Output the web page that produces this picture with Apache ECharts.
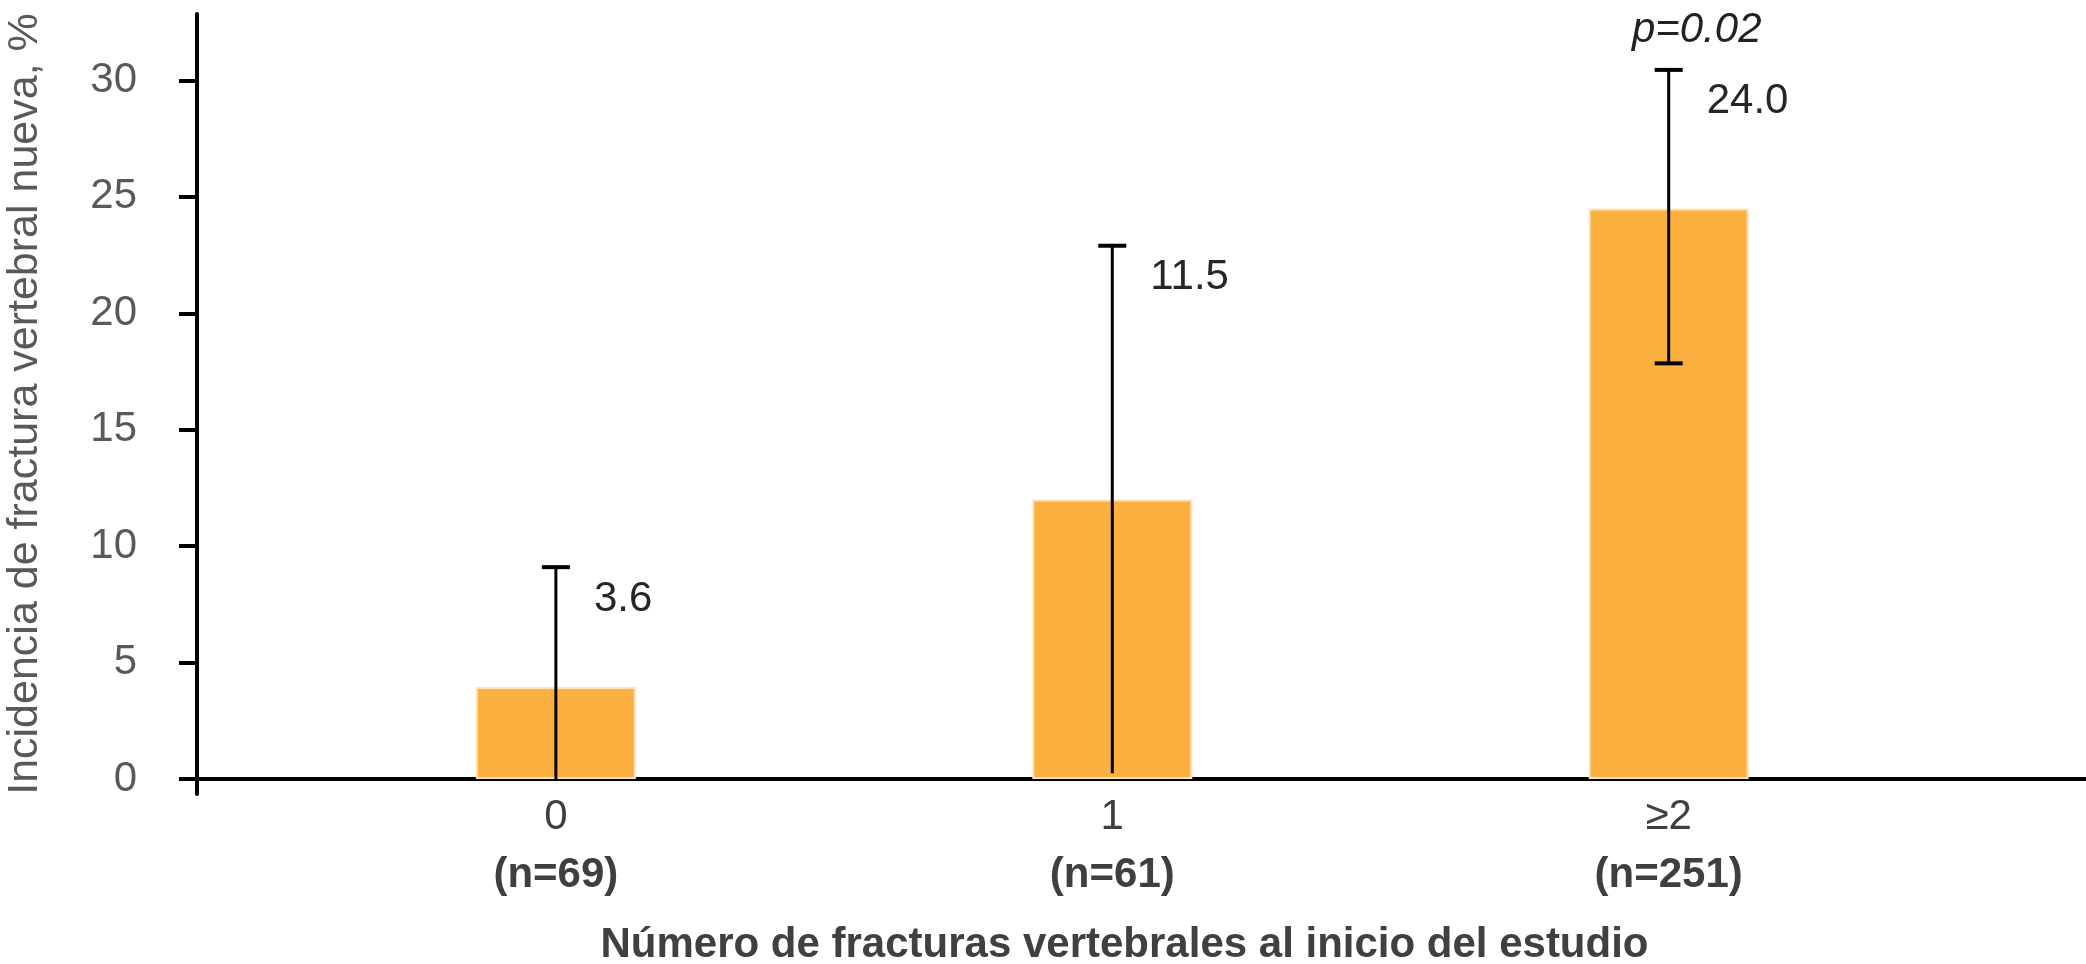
<!DOCTYPE html>
<html>
<head>
<meta charset="utf-8">
<script src="https://cdn.jsdelivr.net/npm/echarts@6/dist/echarts.min.js"></script>
<style>
  html, body { margin: 0; padding: 0; background: #fff; }
  #main { width: 2086px; height: 964px; }
</style>
</head>
<body>
<div id="main"></div>
<script>
// datos
const categories = ['0', '1', '≥2'];
const nCounts = ['(n=69)', '(n=61)', '(n=251)'];
const barValues = [3.95, 12.0, 24.5];
const valueLabels = ['3.6', '11.5', '24.0'];
const errLow = [0, 0.25, 17.85];
const errHigh = [9.1, 22.9, 30.45];
const lowCap = [false, false, true];
const pLabels = ['', '', 'p=0.02'];
const yTicks = [0, 5, 10, 15, 20, 25, 30];

const FONT = '"Liberation Sans", Arial, sans-serif';

let chart = echarts.init(document.getElementById('main'));

let option = {
    backgroundColor: '#fff',
    animation: false,
    grid: {
        left: 197,
        right: 0,
        top: 14,
        bottom: 170,
        outerBoundsMode: 'none',
        containLabel: false
    },
    xAxis: {
        type: 'value',
        min: -0.645,
        max: 2.75,
        splitLine: { show: false },
        axisTick: { show: false },
        axisLine: {
            show: true,
            onZero: true,
            lineStyle: { color: '#000', width: 4 }
        },
        axisLabel: {
            customValues: [0, 1, 2],
            margin: -6,
            formatter: function (v) {
                return '{a|' + categories[v] + '}\n{b|' + nCounts[v] + '}';
            },
            rich: {
                a: { fontSize: 42, fontFamily: FONT, color: '#3f3f3f', lineHeight: 58 },
                b: { fontSize: 42, fontFamily: FONT, color: '#3f3f3f', fontWeight: 'bold', lineHeight: 58 }
            }
        },
        name: 'Número de fracturas vertebrales al inicio del estudio',
        nameLocation: 'middle',
        nameGap: 130,
        nameTextStyle: {
            fontSize: 42,
            fontFamily: FONT,
            fontWeight: 'bold',
            color: '#404040',
            padding: [0, 34, 0, 0]
        }
    },
    yAxis: {
        type: 'value',
        min: -0.64,
        max: 32.85,
        splitLine: { show: false },
        axisLine: {
            show: true,
            onZero: false,
            lineStyle: { color: '#000', width: 4 }
        },
        axisTick: {
            show: true,
            customValues: yTicks,
            length: 18,
            lineStyle: { color: '#000', width: 4 }
        },
        axisLabel: {
            customValues: yTicks,
            margin: 60,
            fontSize: 42,
            fontFamily: FONT,
            color: '#595959'
        },
        name: 'Incidencia de fractura vertebral nueva, %',
        nameLocation: 'middle',
        nameGap: 150,
        nameTextStyle: {
            fontSize: 43,
            fontFamily: FONT,
            color: '#595959'
        }
    },
    series: [{
        type: 'bar',
        barWidth: 160,
        data: barValues.map(function (v, i) { return [i, v]; }),
        itemStyle: {
            color: '#fbb040',
            borderColor: '#fde3bd',
            borderWidth: 2
        },
        z: 2
    }, {
        type: 'custom',
        clip: false,
        z: 3,
        data: errLow.map(function (lo, i) { return [i, lo, errHigh[i]]; }),
        encode: { x: 0, y: [1, 2] },
        renderItem: function (params, api) {
            let i = params.dataIndex;
            let top = api.coord([api.value(0), api.value(2)]);
            let bot = api.coord([api.value(0), api.value(1)]);
            let capW = 14;
            let children = [{
                type: 'line',
                shape: { x1: top[0], y1: top[1], x2: bot[0], y2: bot[1] },
                style: { stroke: '#000', lineWidth: 3 }
            }, {
                type: 'line',
                shape: { x1: top[0] - capW, y1: top[1], x2: top[0] + capW, y2: top[1] },
                style: { stroke: '#000', lineWidth: 4 }
            }, {
                type: 'text',
                style: {
                    x: top[0] + 38,
                    y: top[1] + 32,
                    text: valueLabels[i],
                    fill: '#262626',
                    font: '42px ' + FONT,
                    textAlign: 'left',
                    textVerticalAlign: 'middle'
                }
            }];
            if (lowCap[i]) {
                children.push({
                    type: 'line',
                    shape: { x1: bot[0] - capW, y1: bot[1], x2: bot[0] + capW, y2: bot[1] },
                    style: { stroke: '#000', lineWidth: 4 }
                });
            }
            if (pLabels[i]) {
                children.push({
                    type: 'text',
                    style: {
                        x: top[0] + 28,
                        y: top[1] - 40,
                        text: pLabels[i],
                        fill: '#222',
                        font: 'italic 42px ' + FONT,
                        textAlign: 'center',
                        textVerticalAlign: 'middle'
                    }
                });
            }
            return { type: 'group', children: children };
        }
    }]
};

chart.setOption(option);
</script>
</body>
</html>
